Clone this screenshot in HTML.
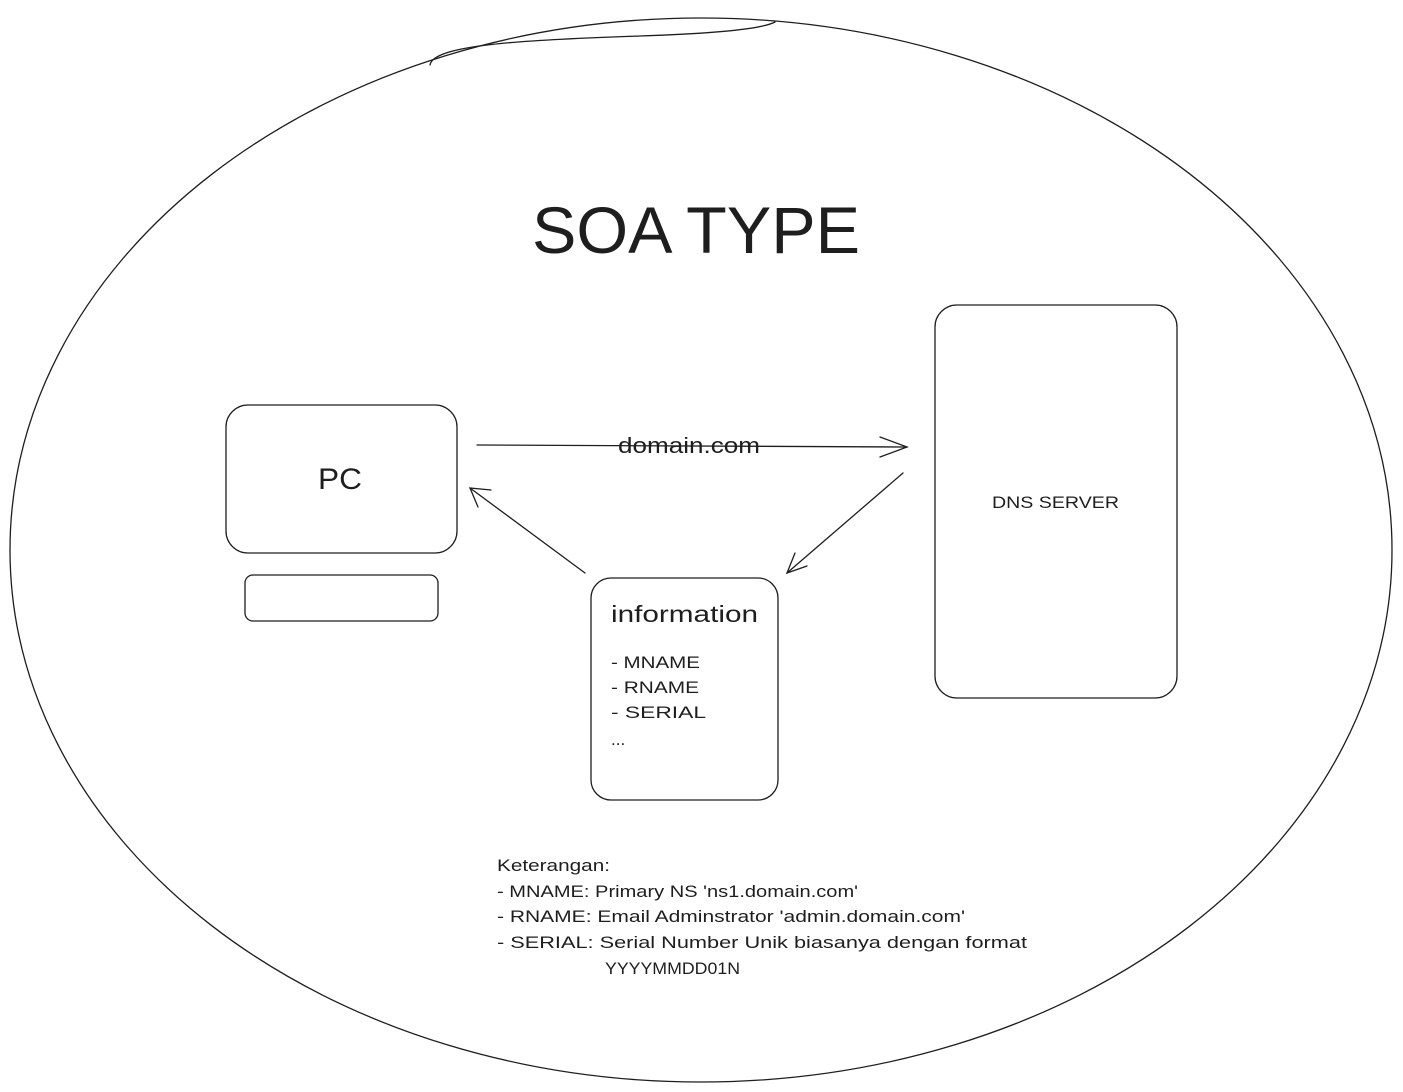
<!DOCTYPE html>
<html><head><meta charset="utf-8"><style>
body{margin:0;background:#fff;}
svg{display:block}
text{font-family:"Liberation Sans",sans-serif;fill:#1e1e1e}
</style></head><body>
<svg width="1403" height="1092" viewBox="0 0 1403 1092" xmlns="http://www.w3.org/2000/svg">
<g fill="none" stroke="#1e1e1e" stroke-width="1.3" stroke-linecap="round">
<ellipse cx="701" cy="550" rx="691" ry="532"/>
<path d="M430 65 C 433 45, 520 40, 640 36 C 700 34, 760 30, 775 22"/>
<rect x="226" y="405" width="231" height="148" rx="22"/>
<rect x="245" y="575" width="193" height="46" rx="8"/>
<rect x="935" y="305" width="242" height="393" rx="22"/>
<rect x="591" y="578" width="187" height="222" rx="20"/>
<line x1="477" y1="445" x2="907" y2="447"/>
<path d="M880 437 L907 447 L880 457"/>
<line x1="903" y1="473" x2="787" y2="573"/>
<path d="M795 553 L787 573 L807 566"/>
<line x1="585" y1="573" x2="470" y2="488"/>
<path d="M478 507 L470 488 L491 490"/>
</g>
<text x="532" y="253" font-size="66" textLength="328" lengthAdjust="spacingAndGlyphs">SOA TYPE</text>
<text x="618" y="453" font-size="22" textLength="142" lengthAdjust="spacingAndGlyphs">domain.com</text>
<text x="318" y="489" font-size="30" textLength="44" lengthAdjust="spacingAndGlyphs">PC</text>
<text x="992" y="508" font-size="17" textLength="127" lengthAdjust="spacingAndGlyphs">DNS SERVER</text>
<text x="611" y="622" font-size="23" textLength="147" lengthAdjust="spacingAndGlyphs">information</text>
<g font-size="17">
<text x="611" y="668" textLength="89" lengthAdjust="spacingAndGlyphs">- MNAME</text>
<text x="611" y="693" textLength="88" lengthAdjust="spacingAndGlyphs">- RNAME</text>
<text x="611" y="718" textLength="95" lengthAdjust="spacingAndGlyphs">- SERIAL</text>
<text x="611" y="745">...</text>
<text x="497" y="871" textLength="113" lengthAdjust="spacingAndGlyphs">Keterangan:</text>
<text x="497" y="897" textLength="361" lengthAdjust="spacingAndGlyphs">- MNAME: Primary NS 'ns1.domain.com'</text>
<text x="497" y="922" textLength="468" lengthAdjust="spacingAndGlyphs">- RNAME: Email Adminstrator 'admin.domain.com'</text>
<text x="497" y="948" textLength="530" lengthAdjust="spacingAndGlyphs">- SERIAL: Serial Number Unik biasanya dengan format</text>
<text x="605" y="974" textLength="135" lengthAdjust="spacingAndGlyphs">YYYYMMDD01N</text>
</g>
</svg>
</body></html>
